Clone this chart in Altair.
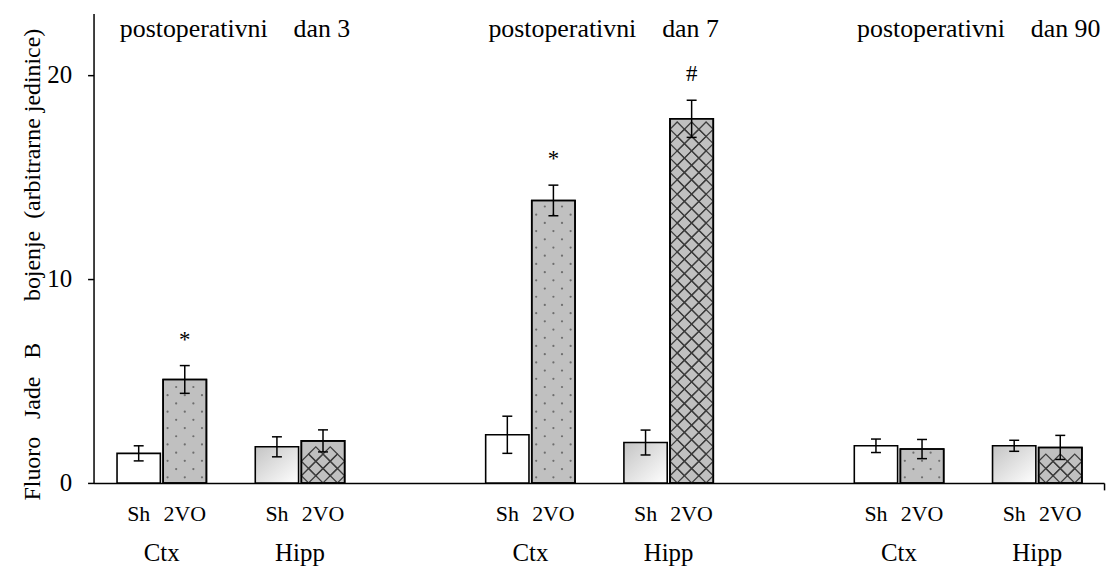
import altair as alt
import pandas as pd

# ---------------- data ----------------
NB = "\u00a0"
days = ["postoperativni" + NB * 4 + "dan" + NB + "3",
        "postoperativni" + NB * 4 + "dan" + NB + "7",
        "postoperativni" + NB * 4 + "dan" + NB + "90"]
regions = ["Ctx", "Hipp"]
groups = ["Sh", "2VO"]

# order inside each day: Ctx-Sh, Ctx-2VO, Hipp-Sh, Hipp-2VO
mean_d3 = [1.45, 5.07, 1.77, 2.06]
mean_d7 = [2.36, 13.84, 1.98, 17.84]
mean_d90 = [1.82, 1.66, 1.82, 1.74]
err_d3 = [0.37, 0.68, 0.49, 0.54]
err_d7 = [0.91, 0.75, 0.61, 0.91]
err_d90 = [0.33, 0.47, 0.27, 0.59]
sig_d3 = ["", "*", "", ""]
sig_d7 = ["", "*", "", "#"]
sig_d90 = ["", "", "", ""]

y_ticks = [0, 10, 20]
y_max = 23
y_title = ("Fluoro" + NB * 3 + "Jade" + NB * 3 + "B" + NB * 7 + "bojenje" + NB * 2 +
           "(arbitrarne" + NB + "jedinice)")

# ---------------- layout ----------------
W, H = 1016, 472
X0, X1 = -0.98, 20.95
HALF = 0.47
px_x = W / (X1 - X0)
px_y = H / y_max
FONT = "Liberation Serif"

rows = []
for di, (day, ms, es, ss) in enumerate(zip(days, [mean_d3, mean_d7, mean_d90],
                                           [err_d3, err_d7, err_d90],
                                           [sig_d3, sig_d7, sig_d90])):
    for k in range(4):
        rows.append(dict(day=day, region=regions[k // 2], group=groups[k % 2],
                         slot=di * 8 + (k // 2) * 3 + k % 2,
                         mean=ms[k], err=es[k], sig=ss[k]))
df = pd.DataFrame(rows)
df["lo"] = df["slot"] - HALF
df["hi"] = df["slot"] + HALF
df["emin"] = df["mean"] - df["err"]
df["emax"] = df["mean"] + df["err"]
df["mid"] = df["slot"] + 0.5
df["tx"] = df["slot"] - 0.41

# dotted texture for Ctx 2VO bars
dots = []
for _, r in df[(df.region == "Ctx") & (df.group == "2VO")].iterrows():
    top = r["mean"] * px_y - 3
    j = 0
    yp = 5.7
    while yp <= top:
        offs = [-17.3, 0, 17.3] if j % 2 == 0 else [-8.65, 8.65]
        for o in offs:
            dots.append(dict(x=r["slot"] + o / px_x, y=yp / px_y))
        j += 1
        yp += 8.25
dots = pd.DataFrame(dots)

# cross-hatch texture for Hipp 2VO bars (touching diamonds)
bar_px = 2 * HALF * px_x
h = bar_px / 6
hatch = []
for _, r in df[(df.region == "Hipp") & (df.group == "2VO")].iterrows():
    vpx = r["mean"] * px_y
    k = 0
    while (2 * k + 2) * h <= vpx + 0.5:
        for o in [-2 * h, 0, 2 * h]:
            hatch.append(dict(x=r["slot"] + o / px_x, y=(2 * k + 1) * h / px_y))
        k += 1
    k = 1
    while (2 * k + 1) * h <= vpx + 0.5:
        for o in [-h, h]:
            hatch.append(dict(x=r["slot"] + o / px_x, y=2 * k * h / px_y))
        k += 1
hatch = pd.DataFrame(hatch)

xs = alt.Scale(domain=[X0, X1], nice=False, zero=False)
ys = alt.Scale(domain=[0, y_max], nice=False)

XAX = alt.Axis(values=[X1], labels=False, title=None, grid=False,
               tickSize=7, tickWidth=1.5, domainWidth=1.5,
               domainColor="black", tickColor="black")
YAX = alt.Axis(values=y_ticks, title=y_title, grid=False,
               tickSize=6, tickWidth=1.5, domainWidth=1.5,
               domainColor="black", tickColor="black",
               labelFont=FONT, labelFontSize=25, labelColor="black",
               labelPadding=16, titleFont=FONT, titleFontSize=24,
               titleFontWeight="normal", titleColor="black",
               titleAngle=270, titleX=-54, titleY=252,
               titleAlign="center", titleBaseline="alphabetic")


def X(f):
    return alt.X(f, scale=xs, axis=XAX, title=None)


def Y(f):
    return alt.Y(f, scale=ys, axis=YAX, title=y_title)


base = alt.Chart(df)
enc = dict(x=X("lo:Q"), x2="hi:Q", y=Y("mean:Q"), y2=alt.datum(0))

bar_white = base.transform_filter("datum.group == 'Sh' && datum.region == 'Ctx'").mark_bar(
    fill="white", stroke="black", strokeWidth=1.6).encode(**enc)

grad = alt.Gradient(gradient="linear",
                    stops=[alt.GradientStop(color="#c4c4c4", offset=0),
                           alt.GradientStop(color="#ffffff", offset=1)],
                    x1=0, y1=0, x2=1, y2=1)

bar_grad = base.transform_filter("datum.group == 'Sh' && datum.region == 'Hipp'").mark_bar(
    fill=grad, stroke="black", strokeWidth=1.6).encode(**enc)

bar_gray = base.transform_filter("datum.group == '2VO'").mark_bar(
    fill="#c0c0c0", stroke="black", strokeWidth=1.6).encode(**enc)

dot_layer = alt.Chart(dots).mark_circle(size=5, color="#6e6e6e", opacity=1).encode(
    x=X("x:Q"), y=Y("y:Q"))

hatch_layer = alt.Chart(hatch).mark_point(shape="diamond", filled=False, stroke="#3c3c3c",
                                           strokeWidth=1.25, size=(2 * h) ** 2, opacity=1).encode(
    x=X("x:Q"), y=Y("y:Q"))

bar_outline = base.transform_filter("datum.group == '2VO'").mark_bar(
    fill="transparent", stroke="black", strokeWidth=1.6).encode(**enc)

err_rule = base.mark_rule(color="black", strokeWidth=1.5).encode(
    x=X("slot:Q"), y=Y("emin:Q"), y2="emax:Q")
cap_top = base.mark_tick(orient="horizontal", size=10, thickness=1.5, color="black", opacity=1).encode(
    x=X("slot:Q"), y=Y("emax:Q"))
cap_bot = base.mark_tick(orient="horizontal", size=10, thickness=1.5, color="black", opacity=1).encode(
    x=X("slot:Q"), y=Y("emin:Q"))

sig_text = base.transform_filter("datum.sig != ''").mark_text(
    font=FONT, fontSize=23, color="black", baseline="alphabetic", dy=-19).encode(
    x=X("slot:Q"), y=Y("emax:Q"), text="sig:N")

grp_text = base.mark_text(font=FONT, fontSize=22, color="black", baseline="middle").encode(
    x=X("slot:Q"), y=alt.value(H + 31), text="group:N")

reg_text = base.transform_filter("datum.group == 'Sh'").mark_text(
    font=FONT, fontSize=25, color="black", baseline="middle").encode(
    x=X("mid:Q"), y=alt.value(H + 70), text="region:N")

day_text = base.transform_filter("datum.group == 'Sh' && datum.region == 'Ctx'").mark_text(
    font=FONT, fontSize=26, color="black", baseline="middle", align="left").encode(
    x=X("tx:Q"), y=alt.value(16), text="day:N")

chart = alt.layer(
    bar_white, bar_grad, bar_gray, dot_layer, hatch_layer, bar_outline,
    err_rule, cap_top, cap_bot, sig_text, grp_text, reg_text, day_text
).properties(
    width=W, height=H,
    autosize=alt.AutoSizeParams(type="none"),
    padding={"left": 86, "top": 4, "right": 8, "bottom": 84},
).configure(font=FONT, background="white").configure_view(strokeWidth=0, stroke="transparent")

chart.save("out.html", embed_options={"renderer": "svg", "actions": False})
